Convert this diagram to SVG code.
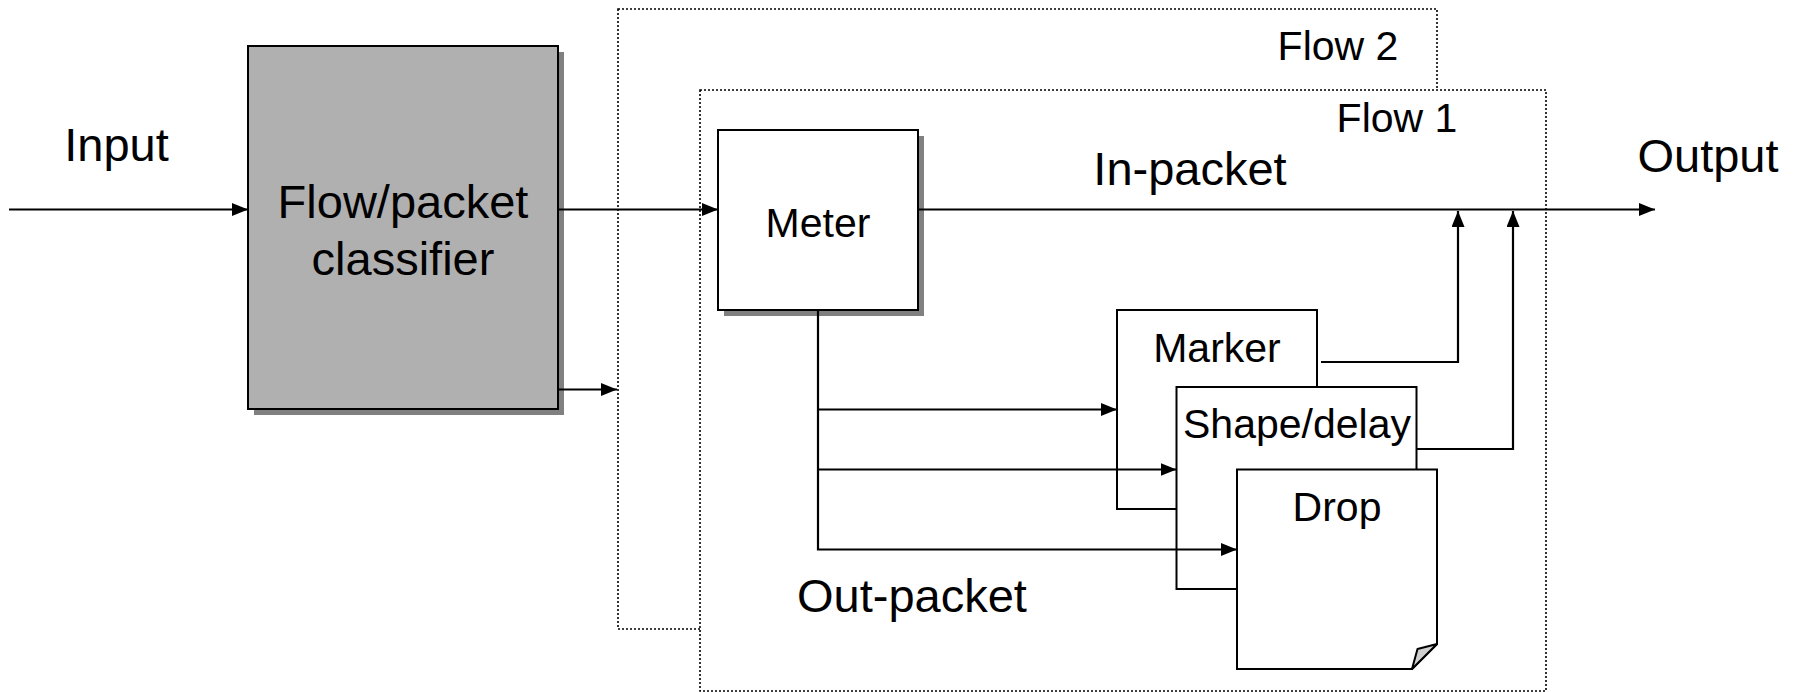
<svg xmlns="http://www.w3.org/2000/svg" width="1802" height="692" viewBox="0 0 1802 692">
  <style>
    .flow { fill: #ffffff; stroke: #000000; stroke-width: 1.6; stroke-dasharray: 2 2; }
    .box { fill: #ffffff; stroke: #000000; stroke-width: 2; }
    .shadow { fill: #808080; stroke: none; }
    .wire { fill: none; stroke: #000000; stroke-width: 2.2; }
    text { font-family: "Liberation Sans", Arial, sans-serif; fill: #000000; text-anchor: middle; }
    .big { font-size: 47px; }
    .mid { font-size: 41px; }
  </style>
  <defs>
    <marker id="arrow" markerUnits="userSpaceOnUse" markerWidth="16" markerHeight="13" refX="16" refY="6.5" orient="auto">
      <path d="M0,0 L16,6.5 L0,13 Z" fill="#000000"/>
    </marker>
  </defs>

  <rect width="1802" height="692" fill="#ffffff"/>

  <!-- flow containers -->
  <g id="flow2">
    <rect class="flow" x="618" y="9" width="819" height="620"/>
    <text class="mid" x="1338" y="60">Flow 2</text>
  </g>
  <g id="flow1">
    <rect class="flow" x="700" y="90" width="846" height="601"/>
    <text class="mid" x="1397" y="132">Flow 1</text>
  </g>

  <!-- free labels -->
  <g id="labels">
    <text class="big" x="116.5" y="161">Input</text>
    <text class="big" x="1708" y="172">Output</text>
    <text class="big" x="1190" y="185">In-packet</text>
    <text class="big" x="912" y="612">Out-packet</text>
  </g>

  <g id="classifier">
    <rect class="shadow" x="254" y="52" width="310" height="363"/>
    <rect x="248" y="46" width="310" height="363" fill="#b0b0b0" stroke="#000000" stroke-width="2"/>
    <text class="big" x="403" y="218">Flow/packet</text>
    <text class="big" x="403" y="275">classifier</text>
  </g>

  <g id="meter">
    <rect class="shadow" x="724" y="136" width="200" height="180"/>
    <rect class="box" x="718" y="130" width="200" height="180"/>
    <text class="mid" x="818" y="237">Meter</text>
  </g>

  <g id="marker">
    <rect class="box" x="1117" y="310" width="200" height="199"/>
    <text class="mid" x="1217" y="362">Marker</text>
  </g>

  <g id="shape">
    <rect class="box" x="1176.5" y="387" width="240" height="202"/>
    <text class="mid" x="1297" y="438">Shape/delay</text>
  </g>

  <g id="drop">
    <path class="box" d="M1237,469.5 H1437 V644 L1412,669 H1237 Z"/>
    <path d="M1437,644 L1417.5,649 L1412,669 Z" fill="#d0d0d0" stroke="#000000" stroke-width="2" stroke-linejoin="round"/>
    <text class="mid" x="1337" y="521">Drop</text>
  </g>

  <g id="connectors">
    <line class="wire" x1="9" y1="209.5" x2="248" y2="209.5" marker-end="url(#arrow)"/>
    <line class="wire" x1="558" y1="209.5" x2="718" y2="209.5" marker-end="url(#arrow)"/>
    <line class="wire" x1="558" y1="389.5" x2="617" y2="389.5" marker-end="url(#arrow)"/>
    <line class="wire" x1="918" y1="209.5" x2="1655" y2="209.5" marker-end="url(#arrow)"/>
    <polyline class="wire" points="818,310 818,549.5 1237,549.5" marker-end="url(#arrow)"/>
    <line class="wire" x1="818" y1="409.5" x2="1117" y2="409.5" marker-end="url(#arrow)"/>
    <line class="wire" x1="818" y1="469.5" x2="1176.5" y2="469.5" marker-end="url(#arrow)"/>
    <polyline class="wire" points="1321,362 1458,362 1458,211" marker-end="url(#arrow)"/>
    <polyline class="wire" points="1417,449 1513,449 1513,211" marker-end="url(#arrow)"/>
  </g>
</svg>
